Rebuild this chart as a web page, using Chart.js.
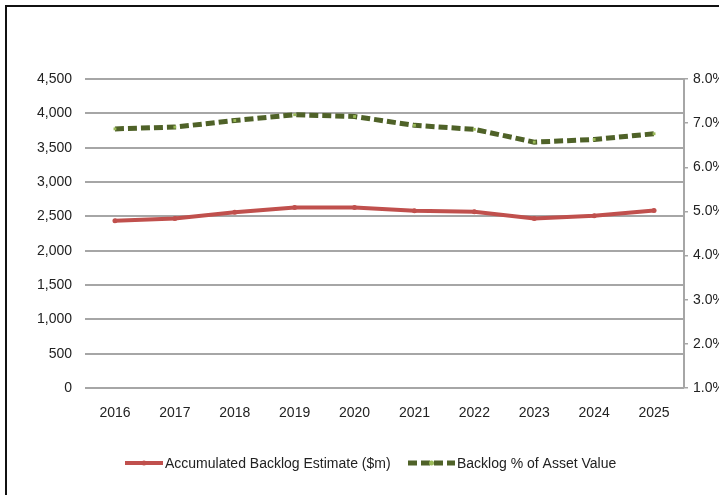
<!DOCTYPE html>
<html>
<head>
<meta charset="utf-8">
<script src="https://cdn.jsdelivr.net/npm/chart.js@4.4.1/dist/chart.umd.min.js"></script>
<style>
  html, body { margin: 0; padding: 0; background: #fff; }
  #wrap { position: relative; width: 719px; height: 495px; }
  #frame { position: absolute; left: 5px; top: 5px; right: 0; bottom: 0;
           border-left: 2px solid #111; border-top: 2px solid #111; pointer-events: none; }
  canvas { position: absolute; left: 0; top: 0; }
</style>
</head>
<body>
<div id="wrap">
  <canvas id="backlogChart" width="719" height="495"></canvas>
  <div id="frame"></div>
</div>
<script>
// data
const years = ['2016', '2017', '2018', '2019', '2020', '2021', '2022', '2023', '2024', '2025'];
const backlogEstimate = [2435, 2470, 2560, 2630, 2630, 2580, 2565, 2470, 2510, 2585];
const backlogPct = [6.87, 6.91, 7.06, 7.19, 7.15, 6.95, 6.86, 6.57, 6.63, 6.76];
const seriesNames = ['Accumulated Backlog Estimate ($m)', 'Backlog % of Asset Value'];

const fontFamily = '"Liberation Sans Narrow", "Arial Narrow", "Liberation Sans", Arial, sans-serif';
const fontSize = 14;
const gridGrey = '#a6a6a6';

// legenda digambar manual supaya posisinya pas
const customLegend = {
    id: 'customLegend',
    afterDraw(chart) {
        const ctx = chart.ctx;
        const spots = [{ x0: 125, x1: 163, tx: 165 }, { x0: 408, x1: 455, tx: 457 }];
        const y = 463;
        ctx.save();
        chart.data.datasets.forEach((ds, i) => {
            const s = spots[i];
            ctx.strokeStyle = ds.borderColor;
            ctx.lineWidth = ds.borderWidth;
            ctx.setLineDash(ds.borderDash || []);
            ctx.beginPath();
            ctx.moveTo(s.x0, y);
            ctx.lineTo(s.x1, y);
            ctx.stroke();
            ctx.setLineDash([]);
            ctx.fillStyle = ds.pointBackgroundColor;
            ctx.beginPath();
            ctx.arc((s.x0 + s.x1) / 2, y, 2.5, 0, Math.PI * 2);
            ctx.fill();
            ctx.fillStyle = '#222';
            ctx.font = fontSize + 'px ' + fontFamily;
            ctx.textBaseline = 'middle';
            ctx.fillText(ds.label, s.tx, y + 1);
        });
        ctx.restore();
    }
};

const ctx = document.getElementById('backlogChart').getContext('2d');
const chartInstance = new Chart(ctx, {
    type: 'line',
    data: {
        labels: years,
        datasets: [{
            label: seriesNames[0],
            data: backlogEstimate,
            yAxisID: 'y',
            borderColor: '#c0504d',
            borderWidth: 4,
            pointRadius: 2.5,
            pointBackgroundColor: '#c0504d',
            pointBorderWidth: 0,
            tension: 0
        }, {
            label: seriesNames[1],
            data: backlogPct,
            yAxisID: 'y1',
            borderColor: '#4f6228',
            borderWidth: 5,
            borderDash: [9, 4],
            pointStyle: 'rect',
            pointRadius: 2,
            pointBackgroundColor: '#9bbb59',
            pointBorderWidth: 0,
            tension: 0
        }]
    },
    options: {
        responsive: false,
        animation: false,
        layout: { padding: { top: 79, left: 0, right: 0, bottom: 0 } },
        plugins: {
            legend: { display: false },
            tooltip: { enabled: false }
        },
        scales: {
            x: {
                offset: true,
                grid: { display: false },
                border: { display: false },
                ticks: { color: '#222', font: { family: fontFamily, size: fontSize }, padding: 9 },
                afterFit(scale) { scale.height = 107; }
            },
            y: {
                position: 'left',
                min: 0,
                max: 4500,
                ticks: {
                    stepSize: 500,
                    color: '#222',
                    padding: 13,
                    font: { family: fontFamily, size: fontSize },
                    callback: v => v.toLocaleString('en-US')
                },
                grid: { color: gridGrey, lineWidth: 2, drawTicks: false },
                border: { display: false },
                afterFit(scale) { scale.width = 85; }
            },
            y1: {
                position: 'right',
                min: 1,
                max: 8,
                ticks: {
                    stepSize: 1,
                    color: '#222',
                    padding: 5,
                    font: { family: fontFamily, size: fontSize },
                    callback: v => v.toFixed(1) + '%'
                },
                grid: { drawOnChartArea: false, color: gridGrey, tickLength: 4, lineWidth: 1.5 },
                border: { display: true, color: gridGrey, width: 2 },
                afterFit(scale) { scale.width = 35; }
            }
        }
    },
    plugins: [customLegend]
});
</script>
</body>
</html>
